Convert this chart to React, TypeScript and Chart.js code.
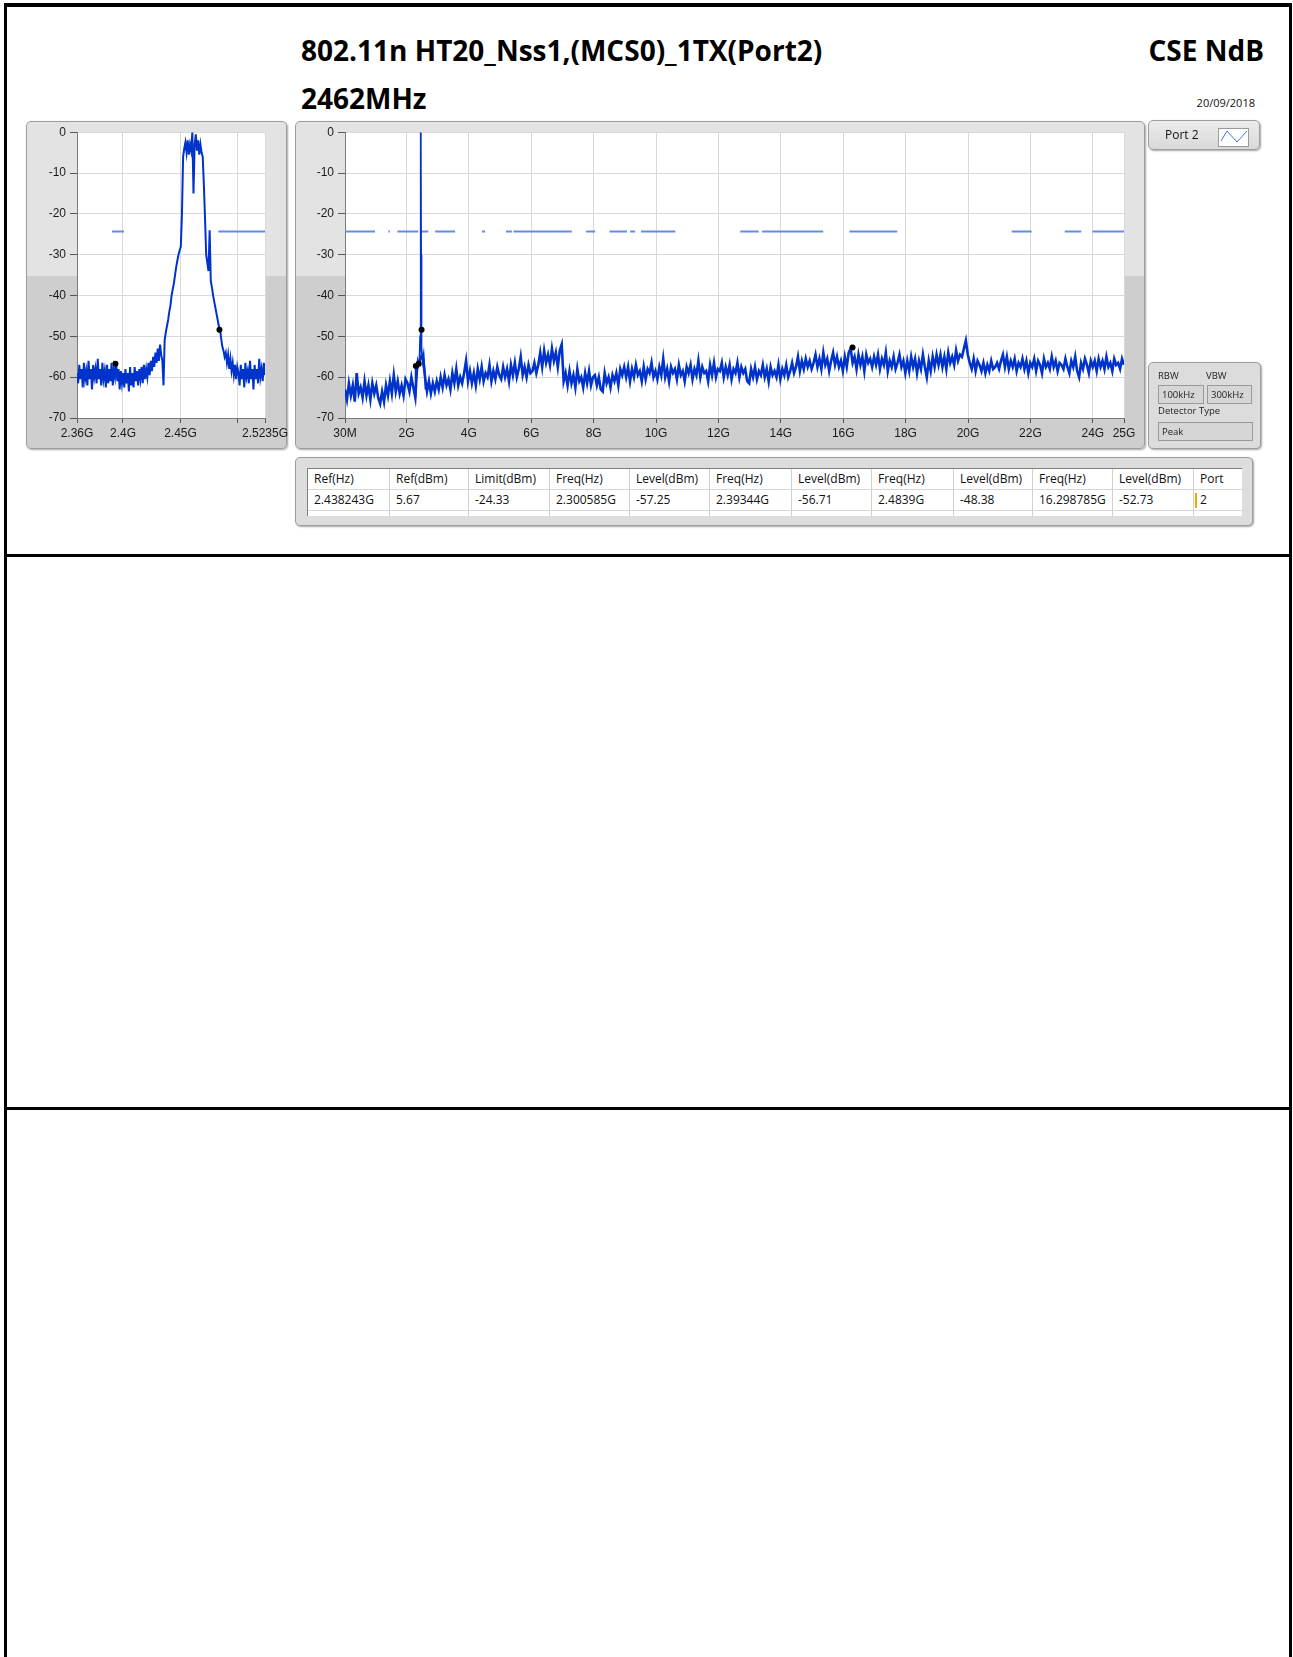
import React, { useEffect, useRef } from "react";
import { Chart, registerables } from "chart.js";

Chart.register(...registerables);

// ---------------- data ----------------
const LIMIT_DBM = -24.33;
const Y_MIN = -70;
const Y_MAX = 0;
const Y_STEP = 10;

// zoomed (in-band) sweep
const zoomSweepStartGHz = 2.36;
const zoomSweepStopGHz = 2.5235;
const zoomTickValues = [2.36, 2.4, 2.45, 2.5, 2.5235];
const zoomTickLabels = ["2.36G", "2.4G", "2.45G", "", "2.5235G"];
const zoomLevels = [
  -59, -61.5, -57, -60.5, -58, -62.5, -56.5, -60.5, -58.5, -62, -56, -60.5, -58, -63, -57, -60, -58, -61.5, -55.5, -60.5,
  -58, -62, -56.5, -60.5, -58.5, -62.5, -57, -61.5, -58, -61, -56.5, -62, -58, -60, -56.7, -61, -58, -63, -58.5, -61.5,
  -59, -62.5, -58, -61.5, -59, -63.5, -57.5, -62, -59, -62.5, -57.5, -61, -58.5, -62, -58, -60.5, -57.5, -61.5, -57, -60.5,
  -58, -60, -56.5, -59.5, -56, -58.5, -55, -57.5, -54, -56.5,
  -53, -56, -52, -54.5, -56, -62, -51, -49, -47.5, -46,
  -44, -42.5, -40, -38.5, -37, -35, -33, -31.5, -30, -29,
  -28, -20, -6, -4, -2.5, -5, -2, -5.5, -3, -4.5,
  0, -15, -3, -0.5, -4.5, -2, -5.5, -3, -5, -6,
  -13, -21, -30, -32, -34, -24, -36.5, -38, -40, -41.5,
  -43, -44.5, -46, -47.5, -48.4, -50.5, -52.5, -53.5, -55, -54,
  -56.5, -54.5, -58, -55.5, -58.5, -56.5, -59.5, -57, -60.5, -57.5,
  -59, -62, -57, -60.5, -58, -62.5, -56.5, -60, -58.5, -61.5, -56, -60.5, -58, -63, -57, -60.5, -58, -61.5, -55.5, -60, -58, -61, -56.5, -59.5,
];
const zoomLimitSegments = [
  [2.3904, 2.4009],
  [2.4829, 2.5235],
];
const zoomMarkerFreqs = [2.39344, 2.4839];
const zoomMarkerLevels = [-56.71, -48.38];

// full span sweep
const fullSweepStartGHz = 0.03;
const fullSweepStopGHz = 25;
const fullTickValues = [0.03, 2, 4, 6, 8, 10, 12, 14, 16, 18, 20, 22, 24, 25];
const fullTickLabels = ["30M", "2G", "4G", "6G", "8G", "10G", "12G", "14G", "16G", "18G", "20G", "22G", "24G", "25G"];
const fullLevels = [
  -63, -65.5, -61.5, -64.5, -62, -66, -59, -64, -62.5, -65, -61, -64.5, -62, -65.5, -61.5, -64,
  -62, -65, -66.5, -63.5, -66, -62, -64.5, -61, -64, -59.5, -63.5, -61, -64, -62, -64.5, -60.5,
  -61.5, -63.5, -60, -62.5, -65, -57, -56.5, -55, -55.5, -60, -63.5, -61, -64, -61.5, -63.5, -61,
  -63, -60, -62.5, -59.5, -62, -60.5, -63, -59, -61.5, -58, -62, -60, -61.5, -59, -56, -61,
  -58.5, -61.5, -59, -62, -58, -60.5, -57.5, -61, -59, -60, -57, -61, -58.5, -60.5, -57.5, -59.5,
  -60.5, -57.5, -60, -58, -61, -57, -59.5, -56.5, -60, -58, -55, -59.5, -57.5, -60, -57, -59,
  -58.5, -56.5, -59, -57, -54, -57.5, -53.5, -56.5, -54.5, -57, -53, -56, -54, -57.5, -53.5, -52,
  -61, -59, -62, -58.5, -61.5, -59.5, -62.5, -58, -61, -60, -62.5, -59, -61.5, -58.5, -62, -60,
  -59.5, -62, -60, -63, -63.5, -59, -61.5, -60, -62.5, -59.5, -61, -59, -62, -58, -59.5, -57.5,
  -60, -57.5, -61, -58, -60, -57, -59.5, -58.5, -61, -57.5, -60.5, -58, -59, -56.5, -60, -58.5,
  -60.5, -57.5, -59.5, -55.5, -60, -58, -61, -57.5, -59, -58, -60.5, -57, -59.5, -58.5, -61, -57.5,
  -59, -57, -60.5, -58, -59.5, -56, -60, -57.5, -59, -58.5, -61, -57, -59.5, -56.5, -60, -58,
  -58.5, -56.5, -60, -57.5, -59.5, -57, -60.5, -58, -59, -56.5, -60, -57.5, -59, -58, -61, -61.5,
  -58, -60, -57.5, -60.5, -58.5, -59.5, -57, -60, -58, -61, -57.5, -59.5, -58.5, -60, -57, -60.5,
  -58, -59.5, -57, -60, -58.5, -56.5, -59, -57.5, -55, -58.5, -56, -58, -55.5, -57.5, -56, -58,
  -56.5, -54.5, -57.5, -55.5, -58, -54, -57, -55.5, -58.5, -56, -54, -57, -55, -57.5, -56, -58.5,
  -55, -57.5, -54, -53, -56.5, -55, -58, -54.5, -57, -55, -58.5, -54.5, -56.5, -55.5, -57.5, -55,
  -57, -54.5, -58, -55.5, -57, -54, -58.5, -56, -57.5, -55, -58, -56.5, -54.5, -57.5, -56, -59,
  -56, -58.5, -55, -57.5, -55.5, -59, -56, -58, -54.5, -57.5, -60, -56, -58.5, -55, -57.5, -54.5,
  -57, -54.5, -57.5, -55, -58, -54, -56.5, -55, -57, -53.5, -56, -54.5, -55, -53, -51, -54.5,
  -56.5, -58, -55.5, -58.5, -56, -57, -58.5, -56.5, -59, -57, -58.5, -56, -58, -57.5, -56.5, -58,
  -56, -54.5, -57.5, -55, -58, -56, -57.5, -55.5, -58.5, -56.5, -57.5, -55.5, -58, -56, -59, -56.5,
  -57.5, -55.5, -58.5, -56, -57, -59, -55.5, -57.5, -56.5, -58, -55, -57.5, -56, -58.5, -56.5, -57,
  -58, -55.5, -57.5, -59, -56, -57.5, -55, -58.5, -60, -56.5, -58, -55.5, -57, -59, -56, -57.5,
  -56, -58.5, -55.5, -57.5, -56, -58, -55, -57.5, -56.5, -58.5, -55.5, -57, -56.5, -58, -55.5, -57,
];
const carrierFreqs = [2.28, 2.29, 2.3, 2.33, 2.36, 2.39, 2.42, 2.44, 2.452, 2.455, 2.458, 2.462, 2.466, 2.469, 2.472, 2.48, 2.49, 2.52, 2.55, 2.58, 2.61];
const carrierLevels = [-64, -65, -57.5, -58, -56, -57, -55.5, -50, -20, -3, 0, -2, -1, -30, -47, -50, -53, -56, -54.5, -58, -63];
const fullLimitSegments = [
  [0.03, 0.99], [1.42, 1.47], [1.57, 1.59], [1.71, 2.38], [2.44, 2.7], [2.92, 3.56],
  [4.42, 4.52], [5.19, 5.38], [5.43, 7.3], [7.76, 8.05], [8.51, 9.07], [9.17, 9.33],
  [9.52, 10.62], [12.7, 13.29], [13.4, 15.36], [16.2, 17.73], [21.4, 22.04], [23.1, 23.63], [23.99, 25.0],
];
const fullMarkerFreqs = [2.300585, 2.39344, 2.4839, 16.298785];
const fullMarkerLevels = [-57.25, -56.71, -48.38, -52.73];

const tableHeaders = ["Ref(Hz)", "Ref(dBm)", "Limit(dBm)", "Freq(Hz)", "Level(dBm)", "Freq(Hz)", "Level(dBm)", "Freq(Hz)", "Level(dBm)", "Freq(Hz)", "Level(dBm)", "Port"];
const tableValues = ["2.438243G", "5.67", "-24.33", "2.300585G", "-57.25", "2.39344G", "-56.71", "2.4839G", "-48.38", "16.298785G", "-52.73", "2"];

// ---------------- styles ----------------
const TRACE_COLOR = "#0033cc";
const LIMIT_COLOR = "#648ce6";
const GRID = "#d9d9d9";
const TICK = "#555555";
const AXIS = "#7a7a7a";
const TEXT = "#1a1a1a";
const COL_W = [82, 79, 81, 80, 80, 82, 80, 82, 79, 80, 81, 49];

const plotBg = {
  id: "plotBg",
  beforeDraw(c: any) {
    const a = c.chartArea;
    const ctx = c.ctx;
    ctx.save();
    ctx.fillStyle = "#ffffff";
    ctx.fillRect(a.left, a.top, a.right - a.left, a.bottom - a.top);
    ctx.restore();
  },
};

type SpecProps = {
  left: number; top: number; width: number; height: number;
  yAxisWidth: number; xAxisHeight: number; padTop: number; padRight: number;
  xMin: number; xMax: number;
  sweepStart: number; sweepStop: number; levels: number[];
  extraFreqs?: number[]; extraLevels?: number[];
  limitSegments: number[][];
  markerFreqs: number[]; markerLevels: number[];
  tickValues: number[]; tickLabels: string[];
  traceWidth: number;
};

function SpectrumChart(p: SpecProps) {
  const ref = useRef<HTMLCanvasElement | null>(null);
  useEffect(() => {
    if (!ref.current) return;
    const n = p.levels.length;
    const step = (p.sweepStop - p.sweepStart) / (n - 1);
    const trace = p.levels.map((v, i) => ({ x: p.sweepStart + i * step, y: v }));
    const limit: any[] = [];
    p.limitSegments.forEach(([a, b]) => {
      limit.push({ x: a, y: LIMIT_DBM }, { x: b, y: LIMIT_DBM }, { x: b, y: null });
    });
    const markers = p.markerFreqs.map((f, i) => ({ x: f, y: p.markerLevels[i] }));
    const datasets: any[] = [
      { data: limit, borderColor: LIMIT_COLOR, borderWidth: 2, pointRadius: 0, spanGaps: false, order: 3 },
      { data: trace, borderColor: TRACE_COLOR, borderWidth: p.traceWidth, pointRadius: 0, order: 2, borderJoinStyle: "miter" },
    ];
    if (p.extraFreqs && p.extraLevels) {
      const ex = p.extraLevels;
      datasets.push({
        data: p.extraFreqs.map((f, i) => ({ x: f, y: ex[i] })),
        borderColor: TRACE_COLOR, borderWidth: 1.8, pointRadius: 0, order: 1,
      });
    }
    datasets.push({
      data: markers, showLine: false, pointRadius: 3, pointHoverRadius: 3,
      pointBackgroundColor: "#000", pointBorderColor: "#000", pointBorderWidth: 0, order: 0,
    });
    const font = { family: "'Liberation Sans', Arial, sans-serif", size: 12 };
    const chart = new Chart(ref.current, {
      type: "line",
      data: { datasets },
      options: {
        animation: false,
        responsive: false,
        maintainAspectRatio: false,
        events: [],
        layout: { padding: { top: p.padTop, right: p.padRight, left: 0, bottom: 0 } },
        plugins: { legend: { display: false }, tooltip: { enabled: false }, title: { display: false } },
        elements: { line: { tension: 0 } },
        scales: {
          x: {
            type: "linear",
            min: p.xMin,
            max: p.xMax,
            afterBuildTicks: (s: any) => {
              s.ticks = p.tickValues.map((v) => ({ value: v }));
            },
            afterFit: (s: any) => {
              s.height = p.xAxisHeight;
            },
            ticks: {
              autoSkip: false, maxRotation: 0, minRotation: 0, padding: 3, color: TEXT, font,
              callback: (_v: any, i: number) => p.tickLabels[i],
            },
            grid: { color: GRID, tickColor: TICK, tickLength: 5, lineWidth: 1 },
            border: { display: true, color: AXIS, width: 1 },
          },
          y: {
            type: "linear",
            min: Y_MIN,
            max: Y_MAX,
            ticks: { stepSize: Y_STEP, padding: 4, color: TEXT, font, autoSkip: false },
            afterFit: (s: any) => {
              s.width = p.yAxisWidth;
            },
            grid: { color: GRID, tickColor: TICK, tickLength: 7 },
            border: { display: true, color: AXIS, width: 1 },
          },
        },
      } as any,
      plugins: [plotBg],
    });
    return () => chart.destroy();
  }, []);
  return (
    <canvas
      ref={ref}
      width={p.width}
      height={p.height}
      style={{ position: "absolute", left: p.left, top: p.top, width: p.width, height: p.height }}
    />
  );
}

function chartPanel(left: number, top: number, width: number, height: number, split: number): React.CSSProperties {
  return {
    position: "absolute", left, top, width, height, boxSizing: "border-box",
    border: "1px solid #9c9c9c", borderRadius: 5,
    background: `linear-gradient(to bottom, #e3e3e3 0px, #e3e3e3 ${split}px, #cecece ${split}px, #cecece 100%)`,
    boxShadow: "1px 1px 2px rgba(0,0,0,0.35)",
  };
}

function plainPanel(left: number, top: number, width: number, height: number, bg: string): React.CSSProperties {
  return {
    position: "absolute", left, top, width, height, boxSizing: "border-box",
    border: "1px solid #9c9c9c", borderRadius: 5, background: bg,
    boxShadow: "1px 1px 2px rgba(0,0,0,0.35)",
  };
}

const smallBox = (left: number, top: number, width: number, height: number): React.CSSProperties => ({
  position: "absolute", left, top, width, height, boxSizing: "border-box",
  border: "1px solid #9a9a9a", background: "#d6d6d6",
  fontFamily: "'Open Sans', sans-serif", fontSize: 9.5, lineHeight: `${height - 2}px`,
  paddingLeft: 3, color: "#222",
});

export default function App() {
  return (
    <div
      style={{
        position: "absolute", left: 0, top: 0, width: 1293, height: 1657, overflow: "hidden",
        background: "#fff", fontFamily: "'Open Sans', sans-serif",
      }}
    >
      {/* page frame */}
      <div style={{ position: "absolute", left: 4, top: 3, width: 1288, height: 1700, boxSizing: "border-box", borderLeft: "3px solid #000", borderRight: "3px solid #000", borderTop: "4px solid #000" }} />
      <div style={{ position: "absolute", left: 4, top: 554, width: 1288, height: 3, background: "#000" }} />
      <div style={{ position: "absolute", left: 4, top: 1107, width: 1288, height: 3, background: "#000" }} />

      {/* titles */}
      <div style={{ position: "absolute", left: 301, top: 36, fontSize: 28, lineHeight: "28px", fontWeight: 700, color: "#000", whiteSpace: "nowrap" }}>
        802.11n HT20_Nss1,(MCS0)_1TX(Port2)
      </div>
      <div style={{ position: "absolute", left: 301, top: 84, fontSize: 28, lineHeight: "28px", fontWeight: 700, color: "#000", whiteSpace: "nowrap" }}>
        2462MHz
      </div>
      <div style={{ position: "absolute", right: 29, top: 36, fontSize: 28, lineHeight: "28px", fontWeight: 700, color: "#000", whiteSpace: "nowrap" }}>
        CSE NdB
      </div>
      <div style={{ position: "absolute", right: 38, top: 97, fontSize: 11, lineHeight: "11px", color: "#111", whiteSpace: "nowrap" }}>
        20/09/2018
      </div>

      {/* left zoom chart */}
      <div style={chartPanel(26, 121, 261, 328, 154)} />
      <SpectrumChart
        left={26} top={121} width={268} height={328}
        yAxisWidth={51} xAxisHeight={31} padTop={9} padRight={29}
        xMin={zoomSweepStartGHz} xMax={zoomSweepStopGHz}
        sweepStart={zoomSweepStartGHz} sweepStop={zoomSweepStopGHz} levels={zoomLevels}
        limitSegments={zoomLimitSegments}
        markerFreqs={zoomMarkerFreqs} markerLevels={zoomMarkerLevels}
        tickValues={zoomTickValues} tickLabels={zoomTickLabels}
        traceWidth={2}
      />

      {/* main chart */}
      <div style={chartPanel(295, 121, 850, 328, 154)} />
      <SpectrumChart
        left={295} top={121} width={850} height={328}
        yAxisWidth={50} xAxisHeight={31} padTop={9} padRight={21}
        xMin={fullSweepStartGHz} xMax={fullSweepStopGHz}
        sweepStart={fullSweepStartGHz} sweepStop={fullSweepStopGHz} levels={fullLevels}
        extraFreqs={carrierFreqs} extraLevels={carrierLevels}
        limitSegments={fullLimitSegments}
        markerFreqs={fullMarkerFreqs} markerLevels={fullMarkerLevels}
        tickValues={fullTickValues} tickLabels={fullTickLabels}
        traceWidth={2.6}
      />

      {/* legend panel */}
      <div style={plainPanel(1148, 120, 112, 30, "linear-gradient(to bottom, #ececec, #d9d9d9)")}>
        <div style={{ position: "absolute", left: 16, top: 0, lineHeight: "28px", fontSize: 12, color: "#111" }}>Port 2</div>
        <div style={{ position: "absolute", left: 69, top: 7, width: 31, height: 19, boxSizing: "border-box", background: "#fff", border: "1px solid #9a9a9a" }}>
          <svg width="29" height="17" style={{ position: "absolute", left: 0, top: 0 }}>
            <polyline points="2,12 8,2 18,13 28,2" fill="none" stroke="#4a6ee0" strokeWidth="1" />
          </svg>
        </div>
      </div>

      {/* RBW / VBW panel */}
      <div style={plainPanel(1148, 362, 113, 87, "#dcdcdc")}>
        <div style={{ position: "absolute", left: 9, top: 7, fontSize: 9.5, lineHeight: "12px", color: "#222" }}>RBW</div>
        <div style={{ position: "absolute", left: 57, top: 7, fontSize: 9.5, lineHeight: "12px", color: "#222" }}>VBW</div>
        <div style={smallBox(9, 22, 46, 19)}>100kHz</div>
        <div style={smallBox(58, 22, 45, 19)}>300kHz</div>
        <div style={{ position: "absolute", left: 9, top: 42, fontSize: 9.5, lineHeight: "12px", color: "#222" }}>Detector Type</div>
        <div style={smallBox(9, 59, 95, 19)}>Peak</div>
      </div>

      {/* marker table */}
      <div style={plainPanel(295, 457, 958, 69, "#dddddd")}>
        <div
          style={{
            position: "absolute", left: 11, top: 10, width: 935, height: 48, background: "#fff", overflow: "hidden",
            borderTop: "1px solid #7e7e7e", borderLeft: "1px solid #7e7e7e", boxSizing: "border-box",
          }}
        >
          {[tableHeaders, tableValues, tableHeaders.map(() => "")].map((row, r) => (
            <div key={r} style={{ display: "flex", height: 21, borderBottom: "1px solid #d6d6d6", boxSizing: "border-box" }}>
              {row.map((txt, c) => (
                <div
                  key={c}
                  style={{
                    position: "relative", width: COL_W[c], flex: "none", boxSizing: "border-box",
                    borderRight: c < row.length - 1 ? "1px solid #d0d0d0" : "none",
                    paddingLeft: 6, fontSize: 12, lineHeight: "20px", color: "#111", whiteSpace: "nowrap",
                  }}
                >
                  {r === 1 && c === row.length - 1 ? (
                    <div style={{ position: "absolute", left: 1, top: 3, width: 2, height: 15, background: "#f0a800" }} />
                  ) : null}
                  {txt}
                </div>
              ))}
            </div>
          ))}
        </div>
      </div>
    </div>
  );
}
